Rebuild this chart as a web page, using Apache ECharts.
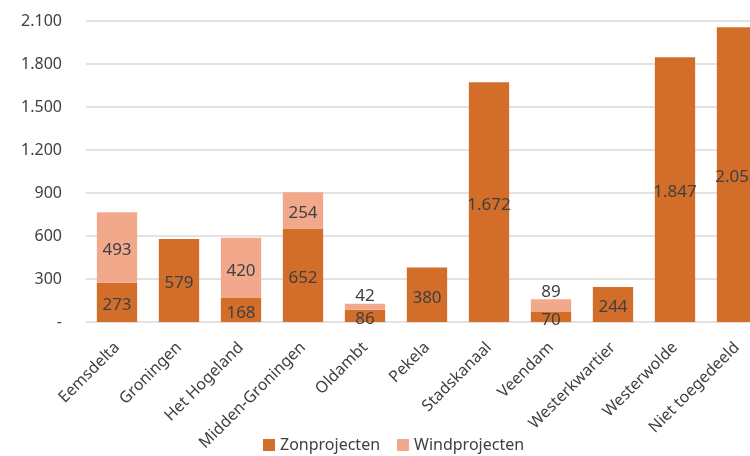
<!DOCTYPE html>
<html>
<head>
<meta charset="utf-8">
<script src="https://cdn.jsdelivr.net/npm/echarts@6/dist/echarts.min.js"></script>
<style>
  html, body { margin: 0; padding: 0; background: #fff; }
  #chart { width: 750px; height: 456px; }
</style>
</head>
<body>
<div id="chart"></div>
<script>
// data
const categories = ['Eemsdelta', 'Groningen', 'Het Hogeland', 'Midden-Groningen', 'Oldambt', 'Pekela',
  'Stadskanaal', 'Veendam', 'Westerkwartier', 'Westerwolde', 'Niet toegedeeld']
const zonValues = [273, 579, 168, 652, 86, 380, 1672, 70, 244, 1847, 2056]
const windValues = [493, null, 420, 254, 42, null, null, 89, null, null, null]
const yTicks = [0, 300, 600, 900, 1200, 1500, 1800, 2100]

const FONT = '"Noto Sans", "Open Sans", sans-serif'
const TEXT = '#404040'

// 1.672 style (Dutch thousands separator)
const fmt = v => {
  if (v === 0) return '-'
  return String(v).replace(/\B(?=(\d{3})+(?!\d))/g, '.')
}

const labelStyle = {
  show: true,
  position: 'inside',
  offset: [0, 3],
  color: TEXT,
  fontSize: 17,
  fontFamily: FONT,
  formatter: p => fmt(p.value)
}

// small wind segments get their label above the bar, as in the reference
const windData = windValues.map(v => {
  if (v === null) return null
  if (v < 100) return { value: v, label: { position: 'top', distance: 1, offset: [0, 2] } }
  return v
})

const myChart = echarts.init(document.getElementById('chart'))

myChart.setOption({
  backgroundColor: '#fff',
  animation: false,
  grid: {
    left: 86,
    top: 21,
    right: -18,
    height: 301,
    containLabel: false,
    outerBoundsMode: 'none'
  },
  legend: {
    left: 258,
    top: 432,
    icon: 'rect',
    itemWidth: 12,
    itemHeight: 12,
    itemGap: 17,
    textStyle: { color: TEXT, fontSize: 16, fontFamily: FONT }
  },
  xAxis: {
    type: 'category',
    data: categories,
    axisTick: { show: false },
    axisLine: { show: false },
    axisLabel: {
      rotate: 45,
      interval: 0,
      margin: 23,
      color: TEXT,
      fontSize: 16,
      fontFamily: FONT
    }
  },
  yAxis: {
    type: 'value',
    min: yTicks[0],
    max: yTicks[yTicks.length - 1],
    interval: 300,
    axisLine: { show: false },
    axisTick: { show: false },
    axisLabel: {
      margin: 24,
      color: TEXT,
      fontSize: 16,
      fontFamily: FONT,
      formatter: v => fmt(v)
    },
    splitLine: { lineStyle: { color: '#d9d9d9', width: 1.5 } }
  },
  series: [
    {
      name: 'Zonprojecten',
      type: 'bar',
      stack: 'total',
      barCategoryGap: '35%',
      itemStyle: { color: '#d36e2a' },
      label: labelStyle,
      data: zonValues
    },
    {
      name: 'Windprojecten',
      type: 'bar',
      stack: 'total',
      barCategoryGap: '35%',
      itemStyle: { color: '#f1a88b' },
      label: labelStyle,
      data: windData
    }
  ]
})
</script>
</body>
</html>
